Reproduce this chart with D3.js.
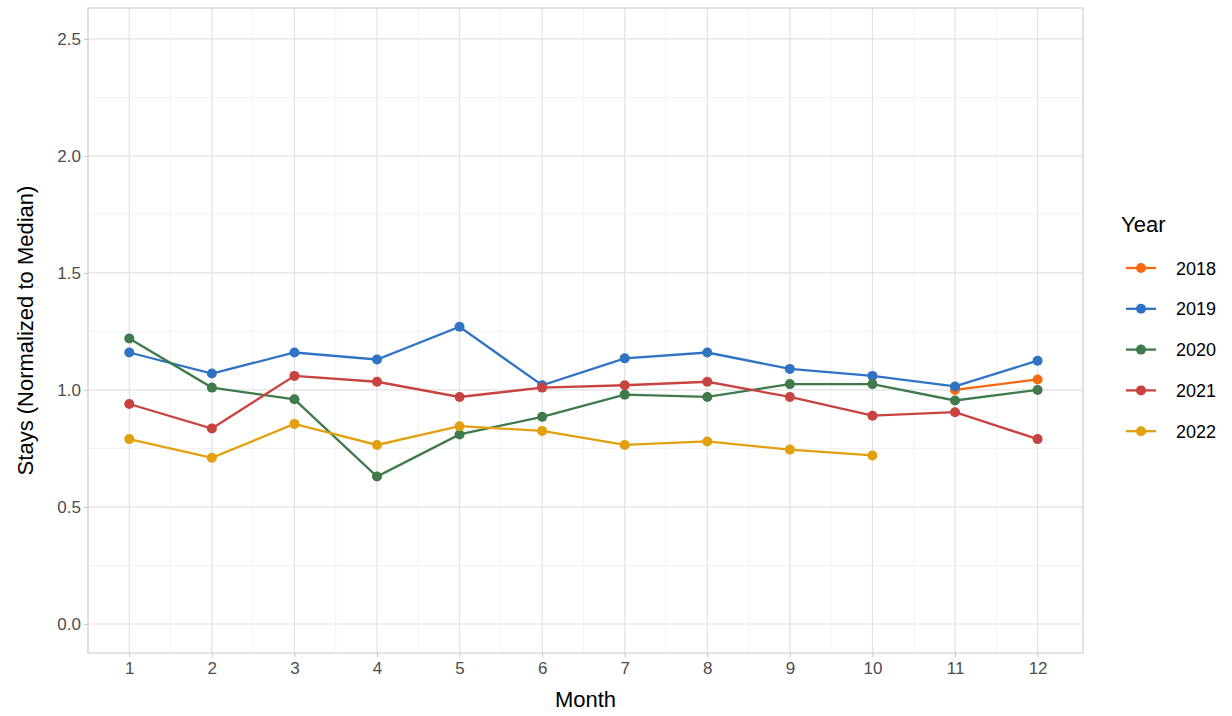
<!DOCTYPE html>
<html><head><meta charset="utf-8">
<script src="https://cdn.jsdelivr.net/npm/d3@7"></script>
<style>body{margin:0;background:#fff;font-family:"Liberation Sans",Arial,sans-serif}</style>
</head><body><div id="chart"></div>
<script>
const months = [1,2,3,4,5,6,7,8,9,10,11,12]
const years = ["2018","2019","2020","2021","2022"]
const colors = ["#f8690f","#2f73c4","#3e7a4a","#c8423f","#e3a00e"]
const v2018 = [null,null,null,null,null,null,null,null,null,null,1.0,1.045]
const v2019 = [1.16,1.07,1.16,1.13,1.27,1.02,1.135,1.16,1.09,1.06,1.015,1.125]
const v2020 = [1.22,1.01,0.96,0.63,0.81,0.885,0.98,0.97,1.025,1.025,0.955,1.0]
const v2021 = [0.94,0.835,1.06,1.035,0.97,1.01,1.02,1.035,0.97,0.89,0.905,0.79]
const v2022 = [0.79,0.71,0.855,0.765,0.845,0.825,0.765,0.78,0.745,0.72,null,null]
const series = [v2018,v2019,v2020,v2021,v2022]
const yTicks = [0,0.5,1,1.5,2,2.5]

const W = 1232, H = 716
const L = 88, R = 1083, T = 8, B = 653
const svg = d3.select("#chart").append("svg").attr("width", W).attr("height", H)
const x = d3.scaleLinear().domain([0.5, 12.55]).range([L, R])
const y = d3.scaleLinear().domain([-0.124, 2.632]).range([B, T])

// grid
const g = svg.append("g")
d3.range(1, 12).map(m => m + 0.5).concat([0.5]).forEach(m => {
    g.append("line").attr("x1", x(m)).attr("x2", x(m)).attr("y1", T).attr("y2", B).attr("stroke", "#f0f0f0").attr("stroke-width", 0.8)
})
d3.range(-0.25, 2.76, 0.5).forEach(v => {
    if (y(v) > T && y(v) < B) g.append("line").attr("x1", L).attr("x2", R).attr("y1", y(v)).attr("y2", y(v)).attr("stroke", "#f0f0f0").attr("stroke-width", 0.8)
})
months.forEach(m => g.append("line").attr("x1", x(m)).attr("x2", x(m)).attr("y1", T).attr("y2", B).attr("stroke", "#e2e2e2").attr("stroke-width", 1.2))
yTicks.forEach(v => g.append("line").attr("x1", L).attr("x2", R).attr("y1", y(v)).attr("y2", y(v)).attr("stroke", "#e2e2e2").attr("stroke-width", 1.2))
svg.append("rect").attr("x", L).attr("y", T).attr("width", R - L).attr("height", B - T).attr("fill", "none").attr("stroke", "#c8c8c8")

// axes
const xa = svg.append("g").attr("transform", "translate(0," + B + ")").call(d3.axisBottom(x).tickValues(months).tickSize(4).tickFormat(d3.format("d")))
const ya = svg.append("g").attr("transform", "translate(" + L + ",0)").call(d3.axisLeft(y).tickValues(yTicks).tickSize(4).tickFormat(d3.format(".1f")))
;[xa, ya].forEach(a => {
    a.select(".domain").remove()
    a.selectAll(".tick line").attr("stroke", "#c8c8c8")
    a.selectAll("text").attr("font-size", 17).attr("fill", "#4d4d4d").attr("font-family", "Liberation Sans, Arial, sans-serif")
})
xa.selectAll("text").attr("dy", "0.85em")
svg.append("text").attr("x", (L + R) / 2).attr("y", 707).attr("text-anchor", "middle").attr("font-size", 22).text("Month")
svg.append("text").attr("transform", "translate(33," + ((T + B) / 2) + ") rotate(-90)").attr("text-anchor", "middle").attr("font-size", 22).text("Stays (Normalized to Median)")

// lines
const line = d3.line().defined(d => d != null).x((d, i) => x(months[i])).y(d => y(d))
series.forEach((s, k) => {
    svg.append("path").datum(s).attr("fill", "none").attr("stroke", colors[k]).attr("stroke-width", 2.3).attr("d", line)
    svg.selectAll(null).data(s.map((v, i) => [months[i], v]).filter(d => d[1] != null)).enter()
        .append("circle").attr("cx", d => x(d[0])).attr("cy", d => y(d[1])).attr("r", 5).attr("fill", colors[k])
})

// legend
const lg = svg.append("g")
lg.append("text").attr("x", 1121).attr("y", 232).attr("font-size", 22).text("Year")
years.forEach((yr, k) => {
    const yy = 268 + k * 40.8
    lg.append("line").attr("x1", 1126).attr("x2", 1156).attr("y1", yy).attr("y2", yy).attr("stroke", colors[k]).attr("stroke-width", 2.3)
    lg.append("circle").attr("cx", 1141).attr("cy", yy).attr("r", 5).attr("fill", colors[k])
    lg.append("text").attr("x", 1176).attr("y", yy + 6.5).attr("font-size", 18).text(yr)
})
</script></body></html>
